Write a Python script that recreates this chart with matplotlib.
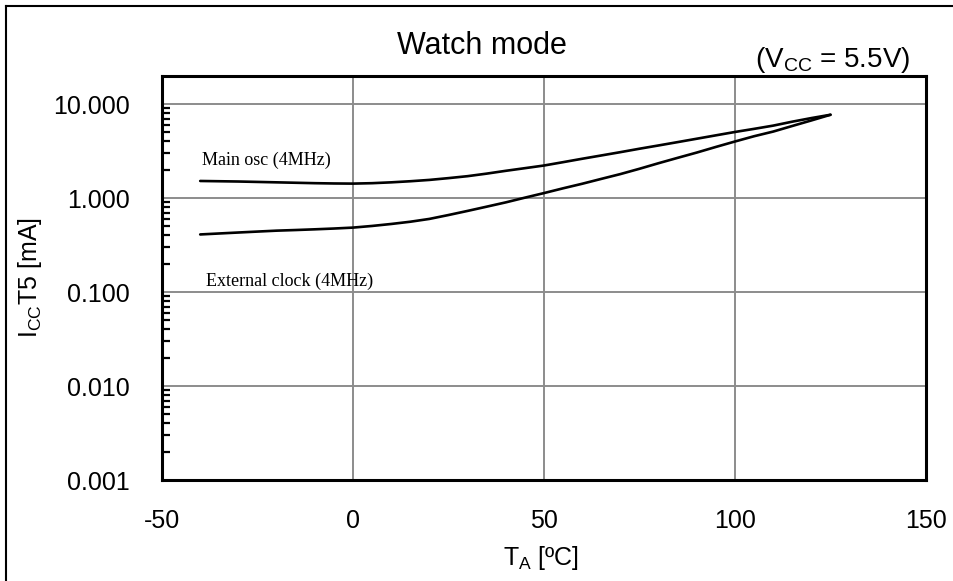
import matplotlib
matplotlib.use("Agg")
import matplotlib.pyplot as plt
from matplotlib.lines import Line2D
from matplotlib.ticker import FixedLocator, LogLocator, NullFormatter

plt.rcParams["font.family"] = ["Liberation Sans", "DejaVu Sans"]
plt.rcParams["mathtext.fontset"] = "custom"
plt.rcParams["mathtext.rm"] = "Liberation Sans"
plt.rcParams["mathtext.it"] = "Liberation Sans:italic"
plt.rcParams["mathtext.bf"] = "Liberation Sans:bold"

# Ambient temperature [degC]
temp_c = [-40, -35, -30, -25, -20, -15, -10, -5, 0, 5, 10, 15, 20, 25, 30, 35,
          40, 45, 50, 55, 60, 65, 70, 75, 80, 85, 90, 95, 100, 105, 110, 115,
          120, 125]
# Supply current ICC T5 [mA]
main_osc_ma = [1.52, 1.51, 1.50, 1.485, 1.47, 1.455, 1.44, 1.43, 1.425, 1.44,
               1.47, 1.51, 1.56, 1.63, 1.71, 1.82, 1.95, 2.08, 2.22, 2.41,
               2.62, 2.84, 3.08, 3.35, 3.63, 3.94, 4.28, 4.65, 5.05, 5.45,
               5.90, 6.50, 7.10, 7.70]
ext_clock_ma = [0.41, 0.42, 0.43, 0.44, 0.45, 0.457, 0.465, 0.474, 0.485, 0.505,
                0.53, 0.56, 0.60, 0.66, 0.73, 0.81, 0.90, 1.01, 1.13, 1.27,
                1.42, 1.60, 1.80, 2.05, 2.35, 2.68, 3.05, 3.50, 4.00, 4.55,
                5.10, 5.85, 6.70, 7.70]

x_ticks = [-50, 0, 50, 100, 150]
y_ticks = [0.001, 0.01, 0.1, 1, 10]
y_tick_labels = ["0.001", "0.010", "0.100", "1.000", "10.000"]

W, H = 954, 581
fig = plt.figure(figsize=(W / 100, H / 100), dpi=100)
ax = fig.add_axes([162 / W, 1 - 480 / H, (926 - 162) / W, (480 - 76) / H])

ax.plot(temp_c, main_osc_ma, color="black", lw=1.9, solid_capstyle="round",
        solid_joinstyle="round")
ax.plot(temp_c, ext_clock_ma, color="black", lw=1.9, solid_capstyle="round",
        solid_joinstyle="round")

ax.set_yscale("log")
ax.set_xlim(-50, 150)
ax.set_ylim(0.001, 19.9)

ax.xaxis.set_major_locator(FixedLocator(x_ticks))
ax.set_xticklabels([str(v) for v in x_ticks])
ax.yaxis.set_major_locator(FixedLocator(y_ticks))
ax.set_yticklabels(y_tick_labels)
ax.yaxis.set_minor_locator(LogLocator(base=10, subs=range(2, 10)))
ax.yaxis.set_minor_formatter(NullFormatter())

ax.tick_params(axis="x", length=0, pad=21, labelsize=18)
ax.tick_params(axis="y", which="major", length=0, pad=23, labelsize=18)
ax.tick_params(axis="y", which="minor", direction="in", length=6, width=1.6,
               color="black")
ax.tick_params(axis="x", which="minor", length=0)

ax.grid(True, which="major", color="#8c8c8c", lw=1.4)
ax.set_axisbelow(True)
for sp in ax.spines.values():
    sp.set_linewidth(2.2)
    sp.set_color("black")

fig.text(541 / W, 1 - 558 / H, r"T$_{\mathrm{A}}$ [ºC]", fontsize=18,
         ha="center", va="center")
fig.text(30 / W, 1 - 278 / H, r"I$_{\mathrm{CC}}$T5 [mA]", fontsize=18,
         ha="center", va="center", rotation=90)

fig.text(482 / W, 1 - 46 / H, "Watch mode", fontsize=22, ha="center", va="center")
fig.text(833 / W, 1 - 60 / H, r"(V$_{\mathrm{CC}}$ = 5.5V)", fontsize=20,
         ha="center", va="center")

ax.text(-39.5, 2.54, "Main osc (4MHz)", fontsize=13, family=["Liberation Serif"],
        ha="left", va="center")
ax.text(-38.5, 0.129, "External clock (4MHz)", fontsize=13, family=["Liberation Serif"],
        ha="left", va="center")

# Frame lines along the left and top edge of the figure
fig.add_artist(Line2D([6.5 / W, 6.5 / W], [0, 1 - 5.5 / H], color="black", lw=1.5))
fig.add_artist(Line2D([6.5 / W, 1], [1 - 5.5 / H, 1 - 5.5 / H], color="black", lw=1.5))

fig.savefig("out.png", dpi=100)
